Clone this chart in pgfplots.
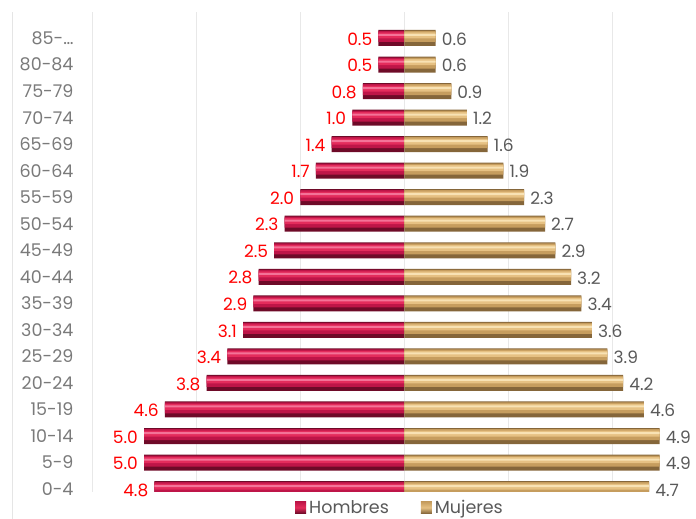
\documentclass[border=0pt]{standalone}
\usepackage{pgfplots}
\pgfplotsset{compat=1.18}
\usepackage{pgfplotstable}
\usepackage{fontspec}
\setmainfont{Poppins}
\definecolor{hA}{HTML}{6E0A28}
\definecolor{hB}{HTML}{BE1548}
\definecolor{hC}{HTML}{E42C5C}
\definecolor{hD}{HTML}{F47398}
\definecolor{mA}{HTML}{85663A}
\definecolor{mB}{HTML}{C69D5E}
\definecolor{mC}{HTML}{E6C183}
\definecolor{mD}{HTML}{F8E2B4}
\definecolor{labgray}{HTML}{595959}
\definecolor{tickgray}{HTML}{7A7A7A}
\pgfplotstableread{
y h hl m
0 -4.8 4.8 4.7
1 -5.0 5.0 4.9
2 -5.0 5.0 4.9
3 -4.6 4.6 4.6
4 -3.8 3.8 4.2
5 -3.4 3.4 3.9
6 -3.1 3.1 3.6
7 -2.9 2.9 3.4
8 -2.8 2.8 3.2
9 -2.5 2.5 2.9
10 -2.3 2.3 2.7
11 -2.0 2.0 2.3
12 -1.7 1.7 1.9
13 -1.4 1.4 1.6
14 -1.0 1.0 1.2
15 -0.8 0.8 0.9
16 -0.5 0.5 0.6
17 -0.5 0.5 0.6
}\pyr
\begin{document}
\begin{tikzpicture}[x=1pt,y=1pt]
\useasboundingbox (0,0) rectangle (696,519);
\draw[gray!20, line width=0.8pt] (12,0) -- (12,507);
\begin{axis}[
  at={(92pt,27pt)}, anchor=south west,
  width=604pt, height=480pt, scale only axis,
  xmin=-6, xmax=5.6, ymin=-0.11, ymax=17.98,
  xbar, bar width=16pt, bar shift=0pt,
  axis line style={draw=none},
  xtick={-6,-4,...,6}, xticklabels={},
  xmajorgrids, grid style={gray!18, line width=0.9pt},
  major tick length=0pt,
  ytick={0,...,17},
  yticklabels={0-4,5-9,10-14,15-19,20-24,25-29,30-34,35-39,40-44,45-49,50-54,55-59,60-64,65-69,70-74,75-79,80-84,85-…},
  yticklabel style={font=\fontsize{17.5}{19}\selectfont, text=tickgray, anchor=east, xshift=-15pt},
  legend columns=2,
  legend style={at={(0.51,-0.033)}, anchor=center, draw=none, fill=none, font=\fontsize{17.5}{19}\selectfont, text=labgray,
    /tikz/every even column/.append style={column sep=30pt},
    /tikz/every odd column/.append style={column sep=1pt}},
  legend image code/.code={\draw[#1, draw=none] (0pt,-5.5pt) rectangle (11pt,6pt);},
]
% Hombres layers
\addplot[draw=none, fill=hA, forget plot] table[x=h, y=y] {\pyr};
\addplot[draw=none, fill=hB, bar width=11pt, bar shift=1.5pt, forget plot] table[x=h, y=y] {\pyr};
\addplot[draw=none, fill=hC, bar width=6pt, bar shift=2.5pt, forget plot] table[x=h, y=y] {\pyr};
\addplot[draw=none, fill=hD, bar width=2pt, bar shift=3pt, forget plot,
  point meta=explicit, nodes near coords,
  nodes near coords style={anchor=east, xshift=-2pt, yshift=-4pt, text=red, font=\fontsize{17}{19}\selectfont, inner sep=4pt,
   /pgf/number format/fixed, /pgf/number format/precision=1, /pgf/number format/fixed zerofill, /pgf/number format/assume math mode=true}]
  table[x=h, y=y, meta=hl] {\pyr};
% Mujeres layers
\addplot[draw=none, fill=mA, forget plot] table[x=m, y=y] {\pyr};
\addplot[draw=none, fill=mB, bar width=11pt, bar shift=1.5pt, forget plot] table[x=m, y=y] {\pyr};
\addplot[draw=none, fill=mC, bar width=6pt, bar shift=2.5pt, forget plot] table[x=m, y=y] {\pyr};
\addplot[draw=none, fill=mD, bar width=2pt, bar shift=3pt, forget plot,
  point meta=explicit, nodes near coords,
  nodes near coords style={anchor=west, xshift=2pt, yshift=-4pt, text=labgray, font=\fontsize{17}{19}\selectfont, inner sep=4pt,
   /pgf/number format/fixed, /pgf/number format/precision=1, /pgf/number format/fixed zerofill, /pgf/number format/assume math mode=true}]
  table[x=m, y=y, meta=m] {\pyr};
\addlegendimage{top color=hB, bottom color=hA, middle color=hC}
\addlegendentry{Hombres}
\addlegendimage{top color=mB, bottom color=mA, middle color=mC}
\addlegendentry{Mujeres}
\end{axis}
\end{tikzpicture}
\end{document}
